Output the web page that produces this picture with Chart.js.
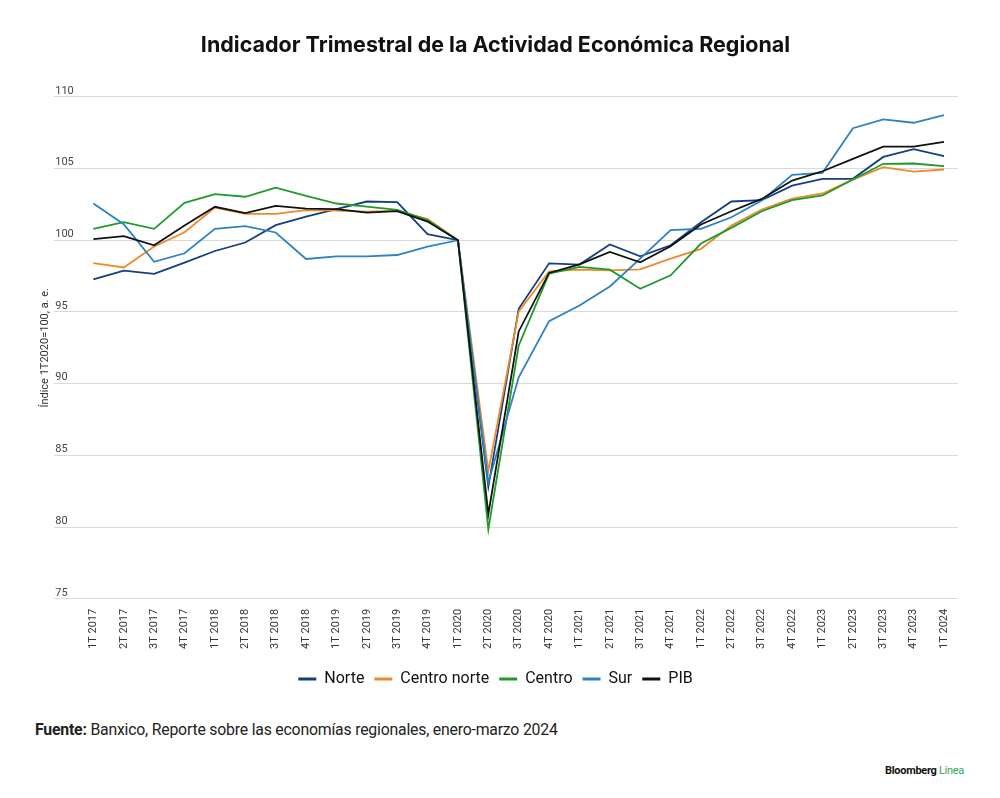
<!DOCTYPE html>
<html>
<head>
<meta charset="utf-8">
<script src="https://cdn.jsdelivr.net/npm/chart.js@4/dist/chart.umd.min.js"></script>
<style>
  body { margin: 0; background: #fff; }
  #wrap { position: relative; width: 1000px; height: 798px; }
  #chartBox { position: absolute; left: 0; top: 0; width: 1000px; height: 705px; }
  #source { position: absolute; left: 35px; top: 720px; font: 15.8px "Roboto", sans-serif; color: #222; letter-spacing: -0.2px; }
  #source b { font-weight: 700; }
  #brand { position: absolute; left: 885px; top: 764px; font: bold 11px "Roboto", sans-serif; color: #111; letter-spacing: -0.3px; }
  #brand span { color: #2fa84f; font-weight: 400; }
</style>
</head>
<body>
<div id="wrap">
  <div id="chartBox"><canvas id="canvChart"></canvas></div>
  <div id="source"><b>Fuente:</b> Banxico, Reporte sobre las economías regionales, enero-marzo 2024</div>
  <div id="brand">Bloomberg <span>Línea</span></div>
</div>
<script>
var quarters = ['1T 2017', '2T 2017', '3T 2017', '4T 2017', '1T 2018', '2T 2018', '3T 2018', '4T 2018',
    '1T 2019', '2T 2019', '3T 2019', '4T 2019', '1T 2020', '2T 2020', '3T 2020', '4T 2020',
    '1T 2021', '2T 2021', '3T 2021', '4T 2021', '1T 2022', '2T 2022', '3T 2022', '4T 2022',
    '1T 2023', '2T 2023', '3T 2023', '4T 2023', '1T 2024'];

var norte = [97.27, 97.88, 97.65, 98.44, 99.25, 99.84, 101.05, 101.65, 102.17, 102.7, 102.66, 100.42, 100,
    82.8, 95.22, 98.39, 98.3, 99.7, 98.88, 99.65, 101.25, 102.7, 102.79, 103.81, 104.28, 104.28, 105.81, 106.35, 105.86];
var centroNorte = [98.4, 98.1, 99.56, 100.56, 102.28, 101.84, 101.84, 102.1, 102.07, 102.0, 102.05, 101.47, 100,
    83.9, 95.03, 97.83, 97.95, 97.9, 97.97, 98.72, 99.4, 101.02, 102.14, 102.9, 103.26, 104.23, 105.09, 104.79, 104.93];
var centro = [100.79, 101.26, 100.79, 102.61, 103.22, 103.03, 103.66, 103.1, 102.56, 102.35, 102.12, 101.4, 100,
    79.85, 92.66, 97.67, 98.14, 97.95, 96.62, 97.55, 99.77, 100.86, 102.02, 102.79, 103.12, 104.23, 105.33, 105.35, 105.16];
var sur = [102.56, 101.12, 98.5, 99.09, 100.79, 100.98, 100.54, 98.69, 98.88, 98.88, 98.97, 99.56, 100,
    83.1, 90.44, 94.36, 95.45, 96.78, 98.72, 100.7, 100.8, 101.6, 102.77, 104.56, 104.7, 107.81, 108.42, 108.19, 108.72];
var pib = [100.07, 100.28, 99.65, 101.03, 102.33, 101.89, 102.4, 102.21, 102.17, 101.93, 102.03, 101.3, 100,
    80.9, 93.64, 97.72, 98.32, 99.18, 98.46, 99.58, 101.1, 102.02, 102.88, 104.16, 104.81, 105.67, 106.53, 106.53, 106.86];

var seriesNames = ['Norte', 'Centro norte', 'Centro', 'Sur', 'PIB'];
var seriesColors = ['#143f7f', '#ee8a2a', '#1f9a2b', '#2b82c4', '#111111'];

var yTicks = [75, 80, 85, 90, 95, 100, 105, 110];

function toPoints(values) {
    return values.map(function (v, i) { return { x: i, y: v }; });
}

function legendLabels(chart) {
    var items = Chart.defaults.plugins.legend.labels.generateLabels(chart);
    items.forEach(function (item) { item.lineWidth = 0; });
    items.sort(function (a, b) { return a.datasetIndex - b.datasetIndex; });
    return items;
}

function buildChart() {
    var ctx = document.getElementById('canvChart').getContext('2d');
    var all = [norte, centroNorte, centro, sur, pib];

    var datasets = all.map(function (values, i) {
        return {
            label: seriesNames[i],
            data: toPoints(values),
            borderColor: seriesColors[i],
            backgroundColor: seriesColors[i],
            borderWidth: 1.8,
            pointRadius: 0,
            tension: 0,
            order: 4 - i
        };
    });

    new Chart(ctx, {
        type: 'line',
        data: { datasets: datasets },
        options: {
            responsive: true,
            maintainAspectRatio: false,
            animation: false,
            layout: { padding: { left: 33, right: 42, top: 33, bottom: 8 } },
            plugins: {
                title: {
                    display: true,
                    text: 'Indicador Trimestral de la Actividad Económica Regional',
                    color: '#111',
                    font: { family: 'Inter', size: 21.5, weight: 'bold' },
                    padding: { top: 0, bottom: 38 }
                },
                legend: {
                    position: 'bottom',
                    labels: {
                        boxWidth: 18,
                        boxHeight: 3,
                        color: '#111',
                        padding: 10,
                        font: { family: 'Roboto', size: 16 },
                        generateLabels: legendLabels
                    }
                },
                tooltip: { enabled: false }
            },
            scales: {
                x: {
                    type: 'linear',
                    min: -1.29,
                    max: 28.46,
                    grid: { display: false },
                    border: { display: false },
                    afterBuildTicks: function (scale) {
                        scale.ticks = quarters.map(function (q, i) { return { value: i }; });
                    },
                    afterFit: function (scale) {
                        scale.height += 10;
                    },
                    ticks: {
                        autoSkip: false,
                        minRotation: 90,
                        maxRotation: 90,
                        padding: 2,
                        color: '#333',
                        font: { family: 'Roboto', size: 11 },
                        callback: function (value) { return quarters[value]; }
                    }
                },
                y: {
                    min: 75,
                    max: 110,
                    afterBuildTicks: function (scale) {
                        scale.ticks = yTicks.map(function (v) { return { value: v }; });
                    },
                    grid: { color: '#d9d9d9', lineWidth: 1, drawTicks: false },
                    border: { display: false },
                    title: {
                        display: true,
                        text: 'Índice 1T2020=100, a. e.',
                        color: '#333',
                        font: { family: 'Roboto', size: 11 },
                        padding: { top: 6, bottom: 0 }
                    },
                    ticks: {
                        mirror: true,
                        padding: 1,
                        labelOffset: -6,
                        color: '#444',
                        font: { family: 'Roboto', size: 11 }
                    }
                }
            }
        }
    });
}

buildChart();
</script>
</body>
</html>
